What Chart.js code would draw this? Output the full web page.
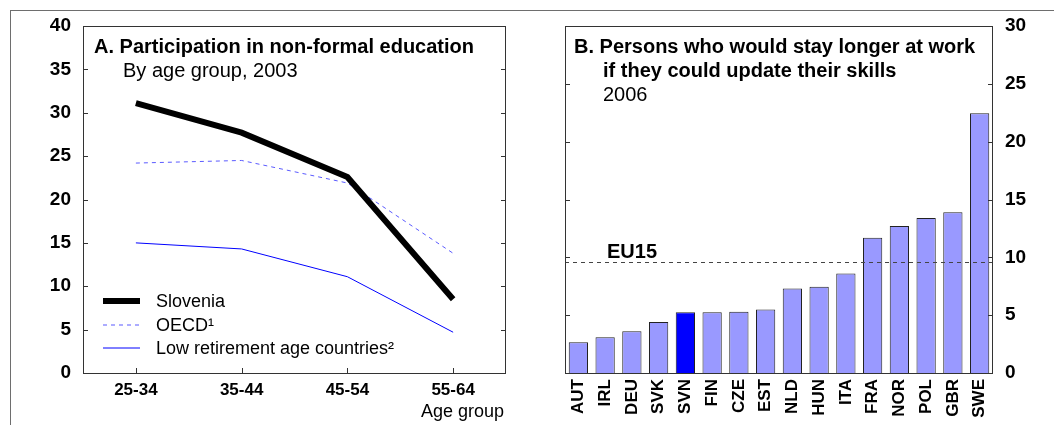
<!DOCTYPE html>
<html>
<head>
<meta charset="utf-8">
<title>Non-formal education and skills</title>
<script src="https://cdn.jsdelivr.net/npm/chart.js@4/dist/chart.umd.min.js"></script>
<style>
  body { margin: 0; background: #fff; }
  #wrap { position: relative; width: 1054px; height: 425px; overflow: hidden; }
  .frame { position: absolute; left: 10px; top: 10px; width: 1100px; height: 500px;
           border-top: 1px solid #6e6e6e; border-left: 1px solid #6e6e6e; }
  #left-chart { position: absolute; left: 0; top: 0; }
  #right-chart { position: absolute; left: 530px; top: 0; }
</style>
</head>
<body>
<div id="wrap">
  <div class="frame"></div>
  <canvas id="left-chart" width="530" height="425"></canvas>
  <canvas id="right-chart" width="524" height="425"></canvas>
</div>
<script>
// Panel A: participation in non-formal education, 2003
var ageGroups = ["25-34", "35-44", "45-54", "55-64"];
var slovenia = [31.1, 27.7, 22.6, 8.5];
var oecd = [24.2, 24.5, 21.9, 13.8];
var lowRetirement = [15.0, 14.3, 11.1, 4.7];

// Panel B: would stay longer at work with updated skills, 2006
var countries = ["AUT","IRL","DEU","SVK","SVN","FIN","CZE","EST","NLD","HUN","ITA","FRA","NOR","POL","GBR","SWE"];
var stayLonger = [2.65, 3.1, 3.6, 4.4, 5.25, 5.25, 5.3, 5.5, 7.3, 7.45, 8.6, 11.7, 12.7, 13.4, 13.9, 22.45];
var eu15 = 9.6;

var FONT = '"Liberation Sans", Arial, Helvetica, sans-serif';
Chart.defaults.font.family = FONT;
Chart.defaults.color = '#000';

// frame round the plot area with inward ticks on both sides
function drawBox(chart, withXTicks) {
  var ctx = chart.ctx, a = chart.chartArea;
  var ys = chart.scales.y, xs = chart.scales.x;
  ctx.save();
  ctx.strokeStyle = '#333';
  ctx.lineWidth = 1;
  ctx.strokeRect(Math.round(a.left) + 0.5, Math.round(a.top) + 0.5,
                 Math.round(a.right - a.left) - 1, Math.round(a.bottom - a.top));
  ctx.beginPath();
  ys.ticks.forEach(function (t) {
    var py = Math.round(ys.getPixelForValue(t.value)) + 0.5;
    ctx.moveTo(a.left, py); ctx.lineTo(a.left + 5, py);
    ctx.moveTo(a.right - 5, py); ctx.lineTo(a.right, py);
  });
  if (withXTicks) {
    xs.ticks.forEach(function (t, i) {
      var px = Math.round(xs.getPixelForValue(i)) + 0.5;
      ctx.moveTo(px, a.bottom); ctx.lineTo(px, a.bottom - 5);
    });
  }
  ctx.stroke();
  ctx.restore();
}

var leftDecor = {
  id: 'leftDecor',
  afterDatasetsDraw: function (chart) {
    var ctx = chart.ctx, a = chart.chartArea;
    drawBox(chart, true);
    ctx.save();
    ctx.fillStyle = '#000';
    ctx.textBaseline = 'alphabetic';
    ctx.font = 'bold 20px ' + FONT;
    ctx.fillText('A. Participation in non-formal education', 94, 53);
    ctx.font = '20px ' + FONT;
    ctx.fillText('By age group, 2003', 123, 77);

    // legend
    var rows = [301, 325, 348];
    ctx.font = '18px ' + FONT;
    ctx.textBaseline = 'middle';
    chart.data.datasets.forEach(function (ds, i) {
      ctx.save();
      ctx.strokeStyle = ds.borderColor;
      ctx.lineWidth = ds.borderWidth;
      ctx.setLineDash(ds.borderDash || []);
      ctx.beginPath();
      ctx.moveTo(103, rows[i]); ctx.lineTo(140, rows[i]);
      ctx.stroke();
      ctx.restore();
      ctx.fillText(ds.label, 156, rows[i] + 1);
    });

    ctx.textAlign = 'right';
    ctx.font = '18px ' + FONT;
    ctx.fillText('Age group', a.right - 2, 412);
    ctx.restore();
  }
};

new Chart(document.getElementById('left-chart'), {
  type: 'line',
  data: {
    labels: ageGroups,
    datasets: [{
        label: 'Slovenia',
        data: slovenia,
        borderColor: '#000',
        borderWidth: 6,
        pointRadius: 0,
        fill: false
      }, {
        label: 'OECD\u00b9',
        data: oecd,
        borderColor: '#5a5aff',
        borderWidth: 1,
        borderDash: [4, 4],
        pointRadius: 0,
        fill: false
      }, {
        label: 'Low retirement age countries\u00b2',
        data: lowRetirement,
        borderColor: '#0000ff',
        borderWidth: 1,
        pointRadius: 0,
        fill: false
      }
    ]
  },
  options: {
    responsive: false,
    animation: false,
    layout: { autoPadding: false, padding: { left: 0, top: 26, right: 24, bottom: 0 } },
    plugins: { legend: { display: false }, tooltip: { enabled: false } },
    scales: {
      x: {
        offset: true,
        grid: { display: false, drawTicks: false },
        border: { display: false },
        ticks: { font: { size: 17, weight: 'bold' }, padding: 7, color: '#000' },
        afterFit: function (s) { s.height = 52; }
      },
      y: {
        min: 0, max: 40,
        grid: { display: false, drawTicks: false },
        border: { display: false },
        ticks: { stepSize: 5, font: { size: 19, weight: 'bold' }, padding: 12, color: '#000' },
        afterFit: function (s) { s.width = 83; }
      }
    }
  },
  plugins: [leftDecor]
});

var rightDecor = {
  id: 'rightDecor',
  afterDatasetsDraw: function (chart) {
    var ctx = chart.ctx, a = chart.chartArea;
    var py = Math.round(chart.scales.y.getPixelForValue(eu15)) + 0.5;
    ctx.save();
    ctx.strokeStyle = '#444';
    ctx.lineWidth = 1;
    ctx.setLineDash([4, 4]);
    ctx.beginPath();
    ctx.moveTo(a.left, py); ctx.lineTo(a.right, py);
    ctx.stroke();
    ctx.restore();

    drawBox(chart, false);

    ctx.save();
    ctx.fillStyle = '#000';
    ctx.font = 'bold 20px ' + FONT;
    ctx.fillText('B. Persons who would stay longer at work', 44, 53);
    ctx.fillText('if they could update their skills', 73, 77);
    ctx.fillText('EU15', 77, py - 5);
    ctx.font = '20px ' + FONT;
    ctx.fillText('2006', 73, 101);
    ctx.restore();
  }
};

new Chart(document.getElementById('right-chart'), {
  type: 'bar',
  data: {
    labels: countries,
    datasets: [{
      data: stayLonger,
      backgroundColor: countries.map(function (c) { return c === 'SVN' ? '#0000ff' : '#9999ff'; }),
      borderColor: '#222',
      borderWidth: 1,
      barPercentage: 0.72,
      categoryPercentage: 1
    }]
  },
  options: {
    responsive: false,
    animation: false,
    layout: { autoPadding: false, padding: { left: 35, top: 26, right: 0, bottom: 0 } },
    plugins: { legend: { display: false }, tooltip: { enabled: false } },
    scales: {
      x: {
        grid: { display: false, drawTicks: false },
        border: { display: false },
        ticks: { font: { size: 17, weight: 'bold' }, padding: 6, color: '#000',
                 minRotation: 90, maxRotation: 90, autoSkip: false },
        afterFit: function (s) { s.height = 52; }
      },
      y: {
        position: 'right',
        min: 0, max: 30,
        grid: { display: false, drawTicks: false },
        border: { display: false },
        ticks: { stepSize: 5, font: { size: 19, weight: 'bold' }, padding: 12, color: '#000' },
        afterFit: function (s) { s.width = 61; }
      }
    }
  },
  plugins: [rightDecor]
});
</script>
</body>
</html>
